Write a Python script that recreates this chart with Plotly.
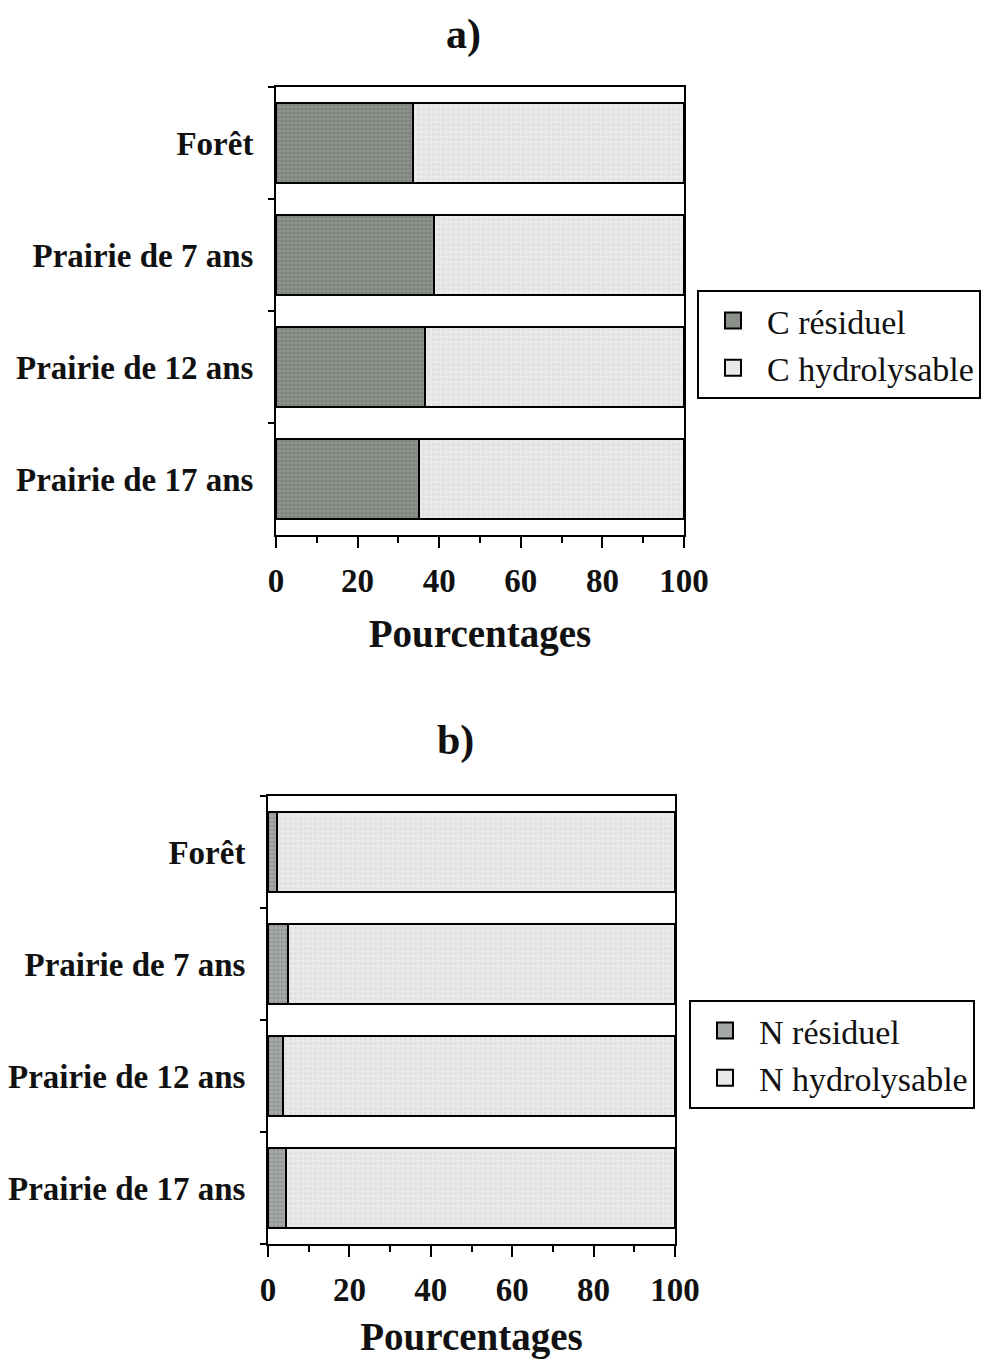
import plotly.graph_objects as go

categories = ["Forêt", "Prairie de 7 ans", "Prairie de 12 ans", "Prairie de 17 ans"]
c_residuel = [33.6, 38.7, 36.6, 35.1]
c_hydrolysable = [66.4, 61.3, 63.4, 64.9]
n_residuel = [2.3, 5.0, 3.8, 4.4]
n_hydrolysable = [97.7, 95.0, 96.2, 95.6]
x_ticks = [0, 20, 40, 60, 80, 100]

# page body has an 8 px margin; figure sized so it fits the 992x1359 window
OFF = 8
FW, FH = 992 - OFF, 1359 - OFF
SERIF = "Liberation Serif"
HYD_COLOR = "#e8e9e8"


def px(x):
    return (x - OFF) / FW


def py(y):
    return 1 - (y - OFF) / FH


fig = go.Figure()


def add_panel(res, hyd, res_name, hyd_name, xa, ya, leg, res_color, res_fg):
    fig.add_trace(go.Bar(y=categories, x=res, orientation="h", name=res_name, showlegend=False,
                         marker=dict(color=res_color, line=dict(color="black", width=2),
                                     pattern=dict(shape=".", fgcolor=res_fg, size=4, solidity=0.35)),
                         xaxis=xa, yaxis=ya))
    fig.add_trace(go.Bar(y=categories, x=hyd, orientation="h", name=hyd_name, showlegend=False,
                         marker=dict(color=HYD_COLOR, line=dict(color="black", width=2),
                                     pattern=dict(shape=".", fgcolor="#d4d6d4", size=5, solidity=0.3)),
                         xaxis=xa, yaxis=ya))
    for name, col in [(res_name, res_color), (hyd_name, HYD_COLOR)]:
        fig.add_trace(go.Scatter(x=[None], y=[None], mode="markers", name=name,
                                 marker=dict(symbol="square", size=18, color=col,
                                             line=dict(color="black", width=2)),
                                 xaxis=xa, yaxis=ya, legend=leg, hoverinfo="skip"))


add_panel(c_residuel, c_hydrolysable, "C résiduel", "C hydrolysable", "x", "y", "legend", "#8b908b", "#676c67")
add_panel(n_residuel, n_hydrolysable, "N résiduel", "N hydrolysable", "x2", "y2", "legend2", "#a4a8a4", "#7c807c")


def xaxis_cfg(x0, x1, anchor):
    return dict(domain=[px(x0), px(x1)], anchor=anchor, range=[0, 100], automargin=False,
                tickvals=x_ticks, ticktext=[str(v) for v in x_ticks],
                ticks="outside", ticklen=11, tickwidth=2, tickcolor="black",
                minor=dict(dtick=10, tick0=0, ticks="outside", ticklen=6, tickwidth=2, tickcolor="black"),
                showline=True, linecolor="black", linewidth=2, mirror=True,
                showgrid=False, zeroline=False, ticklabelstandoff=4,
                tickfont=dict(family=SERIF, size=33, color="#111", weight="bold"),
                title=dict(text="Pourcentages", standoff=22,
                           font=dict(family=SERIF, size=39, color="#111", weight="bold")))


def yaxis_cfg(y_top, y_bot, anchor):
    return dict(domain=[py(y_bot), py(y_top)], anchor=anchor, type="category", automargin=False,
                categoryorder="array", categoryarray=categories[::-1], range=[-0.5, 3.5],
                tickson="boundaries", ticks="outside", ticklen=6, tickwidth=2, tickcolor="black",
                showline=True, linecolor="black", linewidth=2, mirror=True,
                showgrid=False, zeroline=False, ticklabelstandoff=14,
                tickfont=dict(family=SERIF, size=33, color="#111", weight="bold"))


legend_common = dict(bgcolor="white", bordercolor="black", borderwidth=2,
                     font=dict(family=SERIF, size=34, color="#111"),
                     xanchor="left", yanchor="top", traceorder="normal", tracegroupgap=0,
                     itemsizing="trace", itemwidth=58)

fig.update_layout(
    width=FW, height=FH, plot_bgcolor="white", paper_bgcolor="white",
    margin=dict(l=0, r=0, t=0, b=0, autoexpand=False),
    barmode="stack", bargap=0.286,
    xaxis=xaxis_cfg(276, 684, "y"),
    yaxis=yaxis_cfg(87, 535, "x"),
    xaxis2=xaxis_cfg(268, 675, "y2"),
    yaxis2=yaxis_cfg(796, 1244, "x2"),
    legend=dict(x=px(697), y=py(290), **legend_common),
    legend2=dict(x=px(689), y=py(1000), **legend_common),
    annotations=[
        dict(text="a)", x=px(463), y=py(35), xref="paper", yref="paper", showarrow=False,
             xanchor="center", yanchor="middle",
             font=dict(family=SERIF, size=42, color="#111", weight="bold")),
        dict(text="b)", x=px(455), y=py(740), xref="paper", yref="paper", showarrow=False,
             xanchor="center", yanchor="middle",
             font=dict(family=SERIF, size=42, color="#111", weight="bold")),
    ],
)

fig.write_html("out.html")
